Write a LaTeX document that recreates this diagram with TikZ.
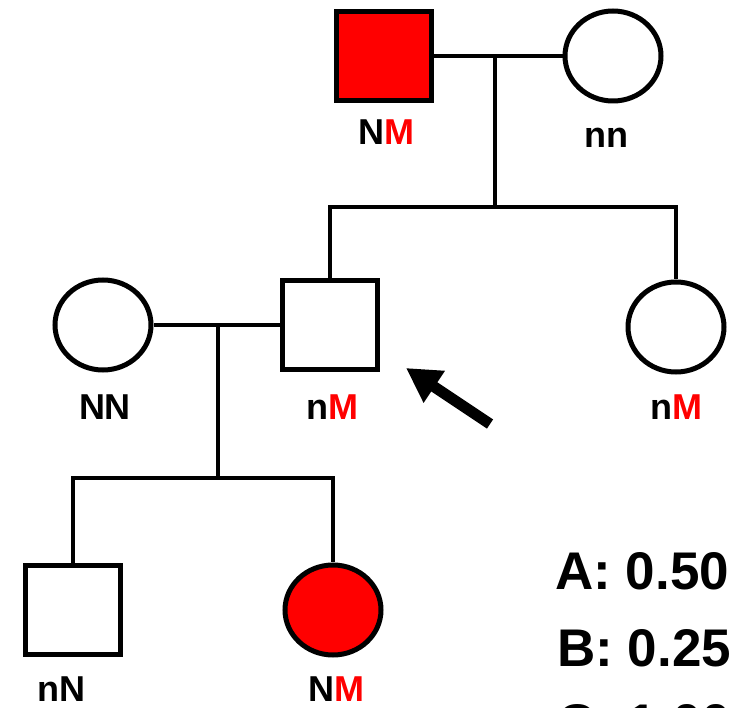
\documentclass[tikz,border=0pt]{standalone}
\usepackage{fontspec}
\setmainfont{Liberation Sans}
\usetikzlibrary{arrows.meta, shapes.geometric}
\usepackage{xcolor}

\begin{document}
\begin{tikzpicture}[
    x=1pt, y=-1pt,
    male/.style={draw, rectangle, line width=5pt, minimum width=95pt, minimum height=89pt, inner sep=0pt},
    female/.style={draw, ellipse, line width=5pt, minimum width=96pt, minimum height=90pt, inner sep=0pt},
    affected/.style={fill=red},
    geno/.style={font=\fontsize{36}{36}\selectfont\bfseries, anchor=base, inner sep=0pt},
    answer/.style={font=\fontsize{53}{53}\selectfont\bfseries, anchor=base west, inner sep=0pt},
    line/.style={line width=4.5pt},
    pointer/.style={-{Triangle[width=36pt,length=34pt]}, line width=11pt}
]
\useasboundingbox (0,0) rectangle (737,708);

% Generation I
\node[male, affected] (father) at (384,56) {};
\node[female] (mother) at (613,56) {};
\node[geno] (fatherg) at (386,145) {N\textcolor{red}{M}};
\node[geno] (motherg) at (606,148) {nn};

% Generation II
\node[female] (wife) at (103,325) {};
\node[male] (son) at (330,325) {};
\node[female] (aunt) at (676,327) {};
\node[geno] (wifeg) at (105,420) {NN};
\node[geno] (song) at (332,420) {n\textcolor{red}{M}};
\node[geno] (auntg) at (676,420) {n\textcolor{red}{M}};

% Generation III
\node[male] (grandson) at (73,610) {};
\node[female, affected] (granddaughter) at (333,610) {};
\node[geno] (grandsong) at (61,701) {nN};
\node[geno] (granddaughterg) at (336,701) {N\textcolor{red}{M}};

% Linhas de casamento e descendencia
\coordinate (mar1) at (495,56);
\coordinate (sib1) at (495,207);
\coordinate (mar2) at (218,325);
\coordinate (sib2) at (218,478);

\draw[line] (father.east) -- (mother.west);
\draw[line] (mar1) -- (sib1);
\draw[line] (son.north) |- (sib1) -| (aunt.north);

\draw[line] (wife.east) -- (son.west);
\draw[line] (mar2) -- (sib2);
\draw[line] (grandson.north) |- (sib2) -| (granddaughter.north);

% Seta do probando
\coordinate (ptrtail) at (490,424);
\coordinate (ptrtip) at (406,368);
\draw[pointer] (ptrtail) -- (ptrtip);

% Respostas
\node[answer] (ansA) at (555,590) {A: 0.50};
\node[answer] (ansB) at (557,666) {B: 0.25};
\node[answer] (ansC) at (557,741) {C: 1.00};

\end{tikzpicture}
\end{document}
